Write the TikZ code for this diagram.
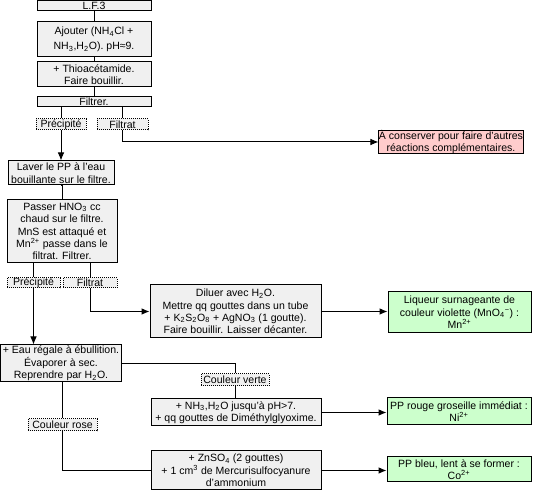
\documentclass[tikz,border=0pt]{standalone}
\usepackage{fontspec}
\setmainfont{Liberation Sans}
\usetikzlibrary{arrows.meta}
\definecolor{boxgray}{RGB}{240,240,240}
\definecolor{boxgreen}{RGB}{204,255,204}
\definecolor{boxred}{RGB}{255,204,204}
\tikzset{
  bx/.style 2 args={minimum width=#1*0.75pt, minimum height=#2*0.75pt},
  stepbox/.style={draw=black, line width=0.75pt, fill=boxgray, rectangle, inner sep=0pt, align=center,
    font=\fontsize{7.9}{9.3}\selectfont},
  greenbox/.style={stepbox, fill=boxgreen},
  redbox/.style={stepbox, fill=boxred},
  tagbox/.style={draw=black, dash pattern=on 0.75pt off 0.75pt, line width=0.75pt, fill=boxgray, rectangle, inner sep=0pt, align=center,
    font=\fontsize{7.9}{9.3}\selectfont},
  conn/.style={draw=black, line width=0.75pt},
  arr/.style={conn, -{Latex[length=6pt,width=5pt]}}
}
\newcommand{\sbs}[1]{\textsubscript{#1}}
\newcommand{\sps}[1]{\textsuperscript{#1}}
\begin{document}
\begin{tikzpicture}[x=0.75pt,y=-0.75pt]
\useasboundingbox (0,0) rectangle (533,491);
% top column
\node[stepbox, bx={114}{10.5}] (lf3) at (94,5.75) {L.F.3};
\node[stepbox, bx={114}{35}] (ajout) at (94,39.5) {Ajouter (NH\sbs{4}Cl +\\[2pt] NH\sbs{3},H\sbs{2}O). pH≈9.};
\node[stepbox, bx={114}{25}] (thio) at (94,74.5) {+ Thioacétamide.\\Faire bouillir.};
\node[stepbox, bx={114}{10}] (filt1) at (94,102) {Filtrer.};
\node[tagbox, bx={50}{11}] (prec1) at (61,124.5) {Précipité};
\node[tagbox, bx={51}{11}] (filtrat1) at (122.5,124.5) {Filtrat};
\node[redbox, bx={142}{22}] (red) at (451,142) {À conserver pour faire d'autres\\réactions complémentaires.};
\node[stepbox, bx={106}{24}] (laver) at (61,173) {Laver le PP à l'eau\\bouillante sur le filtre.};
\node[stepbox, bx={110}{63}] (passer) at (62,231.5) {Passer HNO\sbs{3} cc\\chaud sur le filtre.\\MnS est attaqué et\\Mn\sps{2+} passe dans le\\filtrat. Filtrer.};
\node[tagbox, bx={53}{10}] (prec2) at (33.5,283) {Précipité};
\node[tagbox, bx={54}{10}] (filtrat2) at (90,283) {Filtrat};
\node[stepbox, bx={171}{53}] (diluer) at (235.5,311.5) {Diluer avec H\sbs{2}O.\\Mettre qq gouttes dans un tube\\+ K\sbs{2}S\sbs{2}O\sbs{8} + AgNO\sbs{3} (1 goutte).\\Faire bouillir. Laisser décanter.};
\node[greenbox, bx={143}{41}] (liq) at (459.5,312.5) {Liqueur surnageante de\\couleur violette (MnO\sbs{4}\sps{−}) :\\Mn\sps{2+}};
\node[stepbox, bx={121}{37}] (eau) at (61,363.5) {+ Eau régale à ébullition.\\Évaporer à sec.\\Reprendre par H\sbs{2}O.};
\node[tagbox, bx={68}{12}] (cverte) at (235,380) {Couleur verte};
\node[stepbox, bx={170}{27}] (nh3) at (236,412.5) {+ NH\sbs{3},H\sbs{2}O jusqu'à pH>7.\\+ qq gouttes de Diméthylglyoxime.};
\node[greenbox, bx={144}{27}] (ni) at (459,411.5) {PP rouge groseille immédiat :\\Ni\sps{2+}};
\node[tagbox, bx={69}{12}] (crose) at (62.5,425) {Couleur rose};
\node[stepbox, bx={170}{39}] (zn) at (236,470.5) {+ ZnSO\sbs{4} (2 gouttes)\\+ 1 cm\sps{3} de Mercurisulfocyanure\\d'ammonium};
\node[greenbox, bx={144}{25}] (co) at (459,469.5) {PP bleu, lent à se former :\\Co\sps{2+}};
% connectors
\draw[conn] (lf3) -- (ajout);
\draw[conn] (ajout) -- (thio);
\draw[conn] (thio) -- (filt1);
\draw[conn] (prec1.north) -- (prec1.north |- filt1.south);
\draw[conn] (filtrat1.north) -- (filtrat1.north |- filt1.south);
\draw[arr] (prec1.south) -- (prec1.south |- laver.north);
\draw[arr] (filtrat1.south) |- (red.west);
\draw[conn] (laver.south) -- (laver.south -| passer.north) -- (passer.north);
\draw[conn] (prec2.north) -- (prec2.north |- passer.south);
\draw[conn] (filtrat2.north) -- (filtrat2.north |- passer.south);
\draw[arr] (prec2.south) -- (prec2.south |- eau.north);
\draw[arr] (filtrat2.south) |- (diluer.west);
\draw[arr] (diluer.east) -- (diluer.east -| liq.west);
\draw[conn] (eau.east) -| (cverte.north);
\draw[conn] (cverte.south) -- (cverte.south |- nh3.north);
\draw[conn] (crose.north) -- (crose.north |- eau.south);
\draw[conn] (crose.south) |- (zn.west);
\draw[arr] (nh3.east) -- (nh3.east -| ni.west);
\draw[arr] (zn.east) -- (zn.east -| co.west);
\end{tikzpicture}
\end{document}
